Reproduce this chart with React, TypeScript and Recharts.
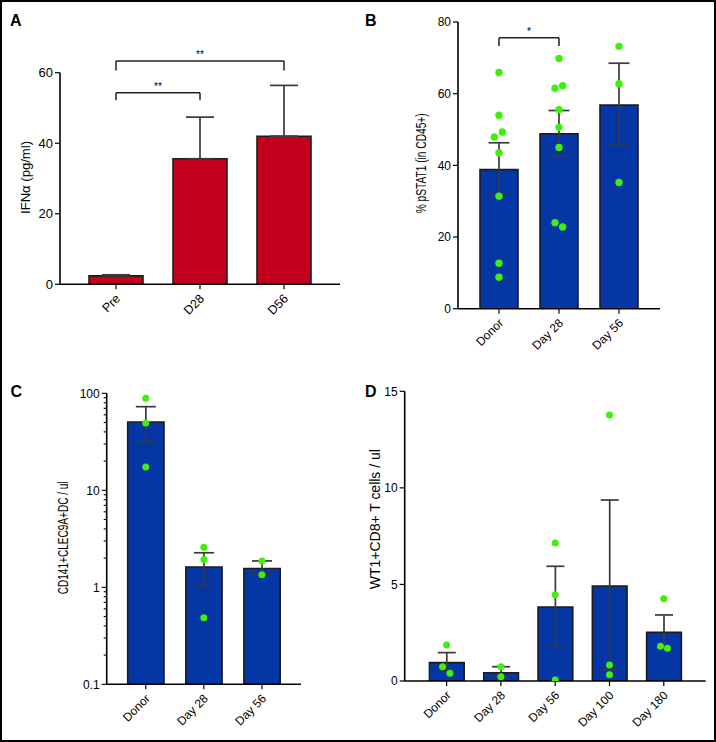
import React from 'react';
import { ComposedChart, Bar, Scatter, XAxis, YAxis, ErrorBar, ReferenceLine } from 'recharts';

const FONT = '"Liberation Sans", Arial, Helvetica, sans-serif';
const RED = '#c3001b';
const BLUE = '#0436a6';
const GREEN = '#3ef00c';
const ERR = '#3a3a3a';

// ---------- Panel A : IFNα ----------
const catsA = ['Pre', 'D28', 'D56'];
const meanA = [2.4, 35.6, 42.0];
const errLowA = [0, 0, 0];
const errHighA = [0.3, 11.8, 14.4];
const ticksA = [0, 20, 40, 60];
const bracketsA = [
  { from: 'Pre', to: 'D28', y: 54.3, drop: 2.1, text: '**' },
  { from: 'Pre', to: 'D56', y: 63.3, drop: 2.7, text: '**' },
];

// ---------- Panel B : % pSTAT1 ----------
const catsB = ['Donor', 'Day 28', 'Day 56'];
const meanB = [38.8, 48.8, 56.8];
const errLowB = [6.7, 6.1, 11.2];
const errHighB = [7.5, 6.5, 11.7];
const ptsB = [
  [65.9, 54.0, 49.3, 47.9, 43.5, 31.4, 12.7, 8.8],
  [69.8, 61.5, 62.2, 55.5, 50.6, 45.0, 24.0, 22.8],
  [73.2, 62.8, 35.2],
];
const jitB = [
  [0, 0, 0.056, -0.078, 0, 0, 0, 0],
  [0, -0.067, 0.061, 0, 0, 0, -0.067, 0.061],
  [0, 0, 0],
];
const ticksB = [0, 20, 40, 60, 80];
const bracketsB = [{ from: 'Donor', to: 'Day 28', y: 75.6, drop: 2.3, text: '*' }];

// ---------- Panel C : CD141+CLEC9A+DC ----------
const catsC = ['Donor', 'Day 28', 'Day 56'];
const meanC = [50.6, 1.62, 1.56];
const errLowC = [19.1, 0.58, 0.21];
const errHighC = [22.2, 0.65, 0.31];
const ptsC = [
  [88.7, 49.4, 17.4],
  [2.58, 1.94, 0.486],
  [1.87, 1.35],
];
const jitC = [
  [0, 0, 0],
  [0, 0, 0],
  [0, 0],
];
const ticksC = [
  0.1, 0.2, 0.3, 0.4, 0.5, 0.6, 0.7, 0.8, 0.9,
  1, 2, 3, 4, 5, 6, 7, 8, 9,
  10, 20, 30, 40, 50, 60, 70, 80, 90, 100,
];
const majorTicksC = [0.1, 1, 10, 100];

// ---------- Panel D : WT1+CD8+ T cells ----------
const catsD = ['Donor', 'Day 28', 'Day 56', 'Day 100', 'Day 180'];
const meanD = [0.95, 0.43, 3.83, 4.92, 2.52];
const errLowD = [0.38, 0.21, 2.0, 4.35, 0.76];
const errHighD = [0.52, 0.31, 2.11, 4.45, 0.9];
const ptsD = [
  [1.86, 0.74, 0.4],
  [0.74, 0.22],
  [7.15, 4.47, 0.05],
  [13.77, 0.83, 0.33],
  [4.26, 1.8, 1.69],
];
const jitD = [
  [0, -0.074, 0.061],
  [0, 0],
  [0, 0, 0],
  [0, 0, 0],
  [0, -0.06, 0.068],
];
const ticksD = [0, 5, 10, 15];

const renderXTick = (fontSize: number) => (props: any) => {
  const { x, y, payload } = props;
  const px = Number(x) + 5;
  const py = Number(y) + 8;
  return (
    <g transform={`translate(${px},${py})`}>
      <g transform="rotate(-45)">
        <text x={0} y={0} textAnchor="end" fontSize={fontSize} fontFamily={FONT} fill="#000">
          {payload.value}
        </text>
      </g>
    </g>
  );
};

const renderLogTick = (props: any) => {
  const { x, y, payload } = props;
  const v = payload.value;
  const major = majorTicksC.includes(v);
  const axisX = Number(x) + 7;
  return (
    <g>
      <line x1={axisX - (major ? 5 : 3)} x2={axisX} y1={y} y2={y} stroke="#000" strokeWidth={1.1} />
      {major && (
        <text x={x} y={y} dy="0.355em" textAnchor="end" fontSize={12} fontFamily={FONT} fill="#000">
          {String(v)}
        </text>
      )}
    </g>
  );
};

type PanelProps = {
  left: number;
  top: number;
  width: number;
  height: number;
  margin: { top: number; right: number; bottom: number; left: number };
  yAxisWidth: number;
  xAxisHeight: number;
  cats: string[];
  means: number[];
  errLow: number[];
  errHigh: number[];
  pts?: number[][];
  jit?: number[][];
  domain: [number, number];
  ticks: number[];
  log?: boolean;
  pad: number;
  barSize: number;
  cap: number;
  fill: string;
  dotR: number;
  yLabel: string;
  labelDist: number;
  labelLen: number;
  labelSize: number;
  labelShift: number;
  yTickSize: number;
  xTickSize: number;
  brackets?: { from: string; to: string; y: number; drop: number; text: string }[];
};

function Panel(p: PanelProps) {
  const rows = p.cats.map((c, i) => ({ name: c, value: p.means[i], err: [p.errLow[i], p.errHigh[i]] }));
  const pts = p.pts
    ? p.pts.flatMap((vals, i) => vals.map((v, j) => ({ x: i + (p.jit ? p.jit[i][j] : 0), y: v })))
    : [];
  const n = p.cats.length;
  const axisStyle = { stroke: '#000', strokeWidth: 1.6 };
  const yLabel = (lp: any) => {
    const vb = lp.viewBox;
    const cx = vb.x + vb.width - p.labelDist;
    const cy = vb.y + vb.height / 2 + p.labelShift;
    return (
      <text
        x={cx}
        y={cy}
        transform={`rotate(-90 ${cx} ${cy})`}
        textAnchor="middle"
        dominantBaseline="central"
        fontSize={p.labelSize}
        fontFamily={FONT}
        textLength={p.labelLen}
        lengthAdjust="spacingAndGlyphs"
        fill="#000"
      >
        {p.yLabel}
      </text>
    );
  };
  const bracketEls: any[] = [];
  (p.brackets || []).forEach((b, k) => {
    bracketEls.push(
      <ReferenceLine
        key={`bh${k}`}
        xAxisId="cat"
        segment={[{ x: b.from, y: b.y }, { x: b.to, y: b.y }]}
        stroke="#222"
        strokeWidth={1.5}
        ifOverflow="visible"
        label={{ value: b.text, position: 'top', fontSize: 10, fill: '#000', offset: 3 }}
      />,
      <ReferenceLine
        key={`bl${k}`}
        xAxisId="cat"
        segment={[{ x: b.from, y: b.y }, { x: b.from, y: b.y - b.drop }]}
        stroke="#222"
        strokeWidth={1.5}
        ifOverflow="visible"
      />,
      <ReferenceLine
        key={`br${k}`}
        xAxisId="cat"
        segment={[{ x: b.to, y: b.y }, { x: b.to, y: b.y - b.drop }]}
        stroke="#222"
        strokeWidth={1.5}
        ifOverflow="visible"
      />
    );
  });
  return (
    <div style={{ position: 'absolute', left: p.left, top: p.top }}>
      <ComposedChart width={p.width} height={p.height} data={rows} margin={p.margin}>
        <XAxis
          xAxisId="cat"
          dataKey="name"
          type="category"
          padding={{ left: p.pad, right: p.pad }}
          height={p.xAxisHeight}
          tick={renderXTick(p.xTickSize)}
          tickSize={5}
          tickMargin={2}
          interval={0}
          axisLine={axisStyle}
          tickLine={{ stroke: '#000', strokeWidth: 1.2 }}
        />
        <XAxis
          xAxisId="num"
          type="number"
          dataKey="x"
          domain={[-0.5, n - 0.5]}
          padding={{ left: p.pad, right: p.pad }}
          allowDataOverflow
          hide
        />
        {p.log ? (
          <YAxis
            scale="log"
            domain={p.domain}
            ticks={p.ticks}
            interval={0}
            allowDataOverflow
            width={p.yAxisWidth}
            tick={renderLogTick}
            tickLine={false}
            tickSize={5}
            tickMargin={2}
            axisLine={axisStyle}
            label={yLabel}
          />
        ) : (
          <YAxis
            type="number"
            domain={p.domain}
            ticks={p.ticks}
            interval={0}
            allowDataOverflow
            width={p.yAxisWidth}
            tick={{ fontSize: p.yTickSize, fill: '#000', fontFamily: FONT }}
            tickSize={5}
            tickMargin={2}
            axisLine={axisStyle}
            tickLine={{ stroke: '#000', strokeWidth: 1.2 }}
            label={yLabel}
          />
        )}
        <Bar
          xAxisId="cat"
          dataKey="value"
          barSize={p.barSize}
          fill={p.fill}
          stroke="#1c1c1c"
          strokeWidth={1.6}
          isAnimationActive={false}
        >
          <ErrorBar dataKey="err" width={p.cap} stroke={ERR} strokeWidth={1.7} direction="y" />
        </Bar>
        {pts.length > 0 && (
          <Scatter
            xAxisId="num"
            data={pts}
            dataKey="y"
            isAnimationActive={false}
            shape={(sp: any) => <circle cx={sp.cx} cy={sp.cy} r={p.dotR} fill={GREEN} />}
          />
        )}
        {bracketEls}
      </ComposedChart>
    </div>
  );
}

export default function App() {
  return (
    <div
      style={{
        position: 'absolute',
        left: 0,
        top: 0,
        width: 716,
        height: 742,
        background: '#fff',
        overflow: 'hidden',
        fontFamily: FONT,
      }}
    >
      <Panel
        left={0}
        top={0}
        width={358}
        height={340}
        margin={{ top: 72.7, right: 18, bottom: 10.7, left: 20 }}
        yAxisWidth={40}
        xAxisHeight={45}
        cats={catsA}
        means={meanA}
        errLow={errLowA}
        errHigh={errHighA}
        domain={[0, 60]}
        ticks={ticksA}
        pad={14}
        barSize={54}
        cap={14}
        fill={RED}
        dotR={0}
        yLabel="IFNα (pg/ml)"
        labelDist={35}
        labelLen={73}
        labelSize={13}
        labelShift={-1}
        yTickSize={13}
        xTickSize={12.5}
        brackets={bracketsA}
      />
      <Panel
        left={358}
        top={0}
        width={358}
        height={360}
        margin={{ top: 22, right: 56, bottom: 6.3, left: 50 }}
        yAxisWidth={50}
        xAxisHeight={45}
        cats={catsB}
        means={meanB}
        errLow={errLowB}
        errHigh={errHighB}
        pts={ptsB}
        jit={jitB}
        domain={[0, 80]}
        ticks={ticksB}
        pad={11}
        barSize={38}
        cap={10.5}
        fill={BLUE}
        dotR={3.7}
        yLabel="% pSTAT1 (in CD45+)"
        labelDist={37}
        labelLen={100}
        labelSize={14.5}
        labelShift={-2}
        yTickSize={12}
        xTickSize={12}
        brackets={bracketsB}
      />
      <Panel
        left={0}
        top={360}
        width={358}
        height={382}
        margin={{ top: 33.3, right: 57, bottom: 7.7, left: 56.7 }}
        yAxisWidth={50}
        xAxisHeight={50}
        cats={catsC}
        means={meanC}
        errLow={errLowC}
        errHigh={errHighC}
        pts={ptsC}
        jit={jitC}
        domain={[0.1, 100]}
        ticks={ticksC}
        log
        pad={10}
        barSize={36.3}
        cap={10}
        fill={BLUE}
        dotR={3.5}
        yLabel="CD141+CLEC9A+DC / ul"
        labelDist={43.7}
        labelLen={113}
        labelSize={14.5}
        labelShift={-1}
        yTickSize={12}
        xTickSize={12}
      />
      <Panel
        left={358}
        top={360}
        width={358}
        height={382}
        margin={{ top: 31.3, right: 10.3, bottom: 11, left: 16.7 }}
        yAxisWidth={30}
        xAxisHeight={50}
        cats={catsD}
        means={meanD}
        errLow={errLowD}
        errHigh={errHighD}
        pts={ptsD}
        jit={jitD}
        domain={[0, 15]}
        ticks={ticksD}
        pad={14.75}
        barSize={34.7}
        cap={9}
        fill={BLUE}
        dotR={3.5}
        yLabel="WT1+CD8+ T cells / ul"
        labelDist={30}
        labelLen={140}
        labelSize={14}
        labelShift={-17}
        yTickSize={12}
        xTickSize={12}
      />
      <svg
        width={716}
        height={742}
        style={{ position: 'absolute', left: 0, top: 0, pointerEvents: 'none' }}
      >
        <text x={10} y={26} fontSize={16} fontWeight="bold" fontFamily={FONT} fill="#000">A</text>
        <text x={365} y={26} fontSize={16} fontWeight="bold" fontFamily={FONT} fill="#000">B</text>
        <text x={10.5} y={396.5} fontSize={16} fontWeight="bold" fontFamily={FONT} fill="#000">C</text>
        <text x={365} y={396.5} fontSize={16} fontWeight="bold" fontFamily={FONT} fill="#000">D</text>
      </svg>
      <div
        style={{
          position: 'absolute',
          left: 0,
          top: 0,
          width: 716,
          height: 742,
          boxSizing: 'border-box',
          border: '2px solid #000',
          pointerEvents: 'none',
        }}
      />
    </div>
  );
}
